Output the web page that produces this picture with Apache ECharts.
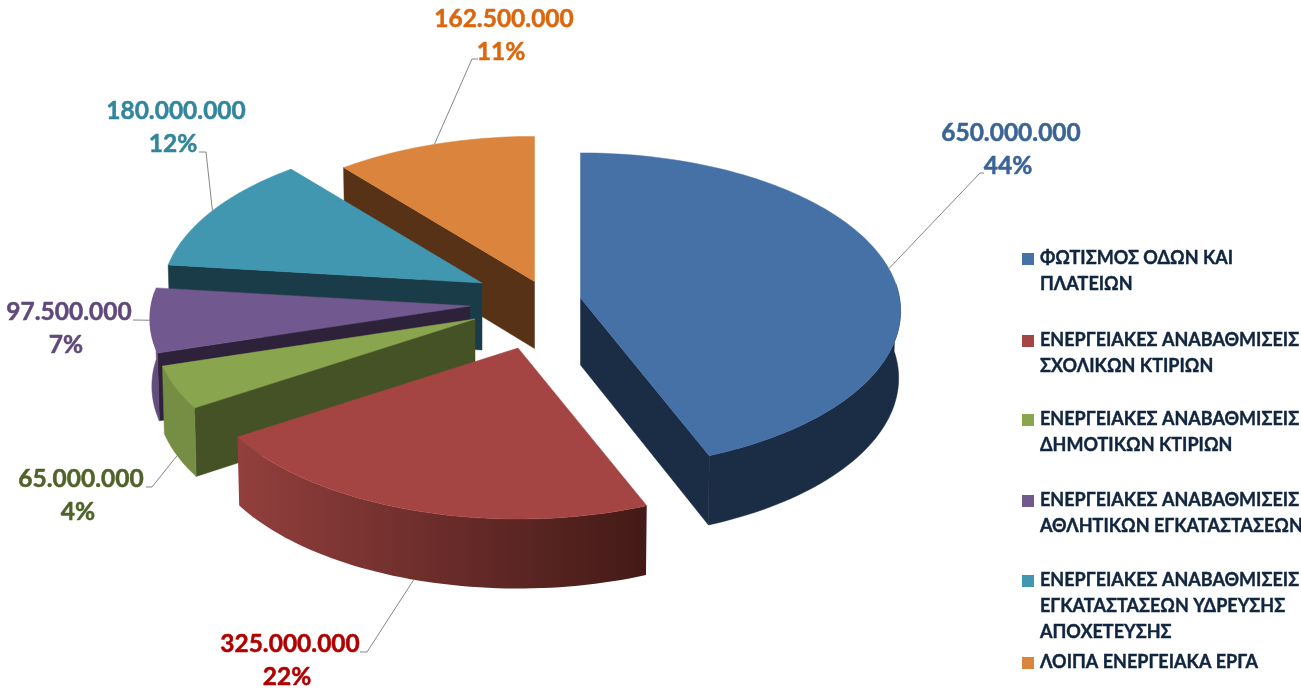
<!DOCTYPE html>
<html>
<head>
<meta charset="utf-8">
<style>html,body{margin:0;padding:0;background:#fff}#c{width:1301px;height:691px}</style>
<script src="https://cdn.jsdelivr.net/npm/echarts@6/dist/echarts.min.js"></script>
</head>
<body>
<div id="c"></div>
<script>
// ---- data ----
const categories = [
  'ΦΩΤΙΣΜΟΣ ΟΔΩΝ ΚΑΙ\nΠΛΑΤΕΙΩΝ',
  'ΕΝΕΡΓΕΙΑΚΕΣ ΑΝΑΒΑΘΜΙΣΕΙΣ\nΣΧΟΛΙΚΩΝ ΚΤΙΡΙΩΝ',
  'ΕΝΕΡΓΕΙΑΚΕΣ ΑΝΑΒΑΘΜΙΣΕΙΣ\nΔΗΜΟΤΙΚΩΝ ΚΤΙΡΙΩΝ',
  'ΕΝΕΡΓΕΙΑΚΕΣ ΑΝΑΒΑΘΜΙΣΕΙΣ\nΑΘΛΗΤΙΚΩΝ ΕΓΚΑΤΑΣΤΑΣΕΩΝ',
  'ΕΝΕΡΓΕΙΑΚΕΣ ΑΝΑΒΑΘΜΙΣΕΙΣ\nΕΓΚΑΤΑΣΤΑΣΕΩΝ ΥΔΡΕΥΣΗΣ\nΑΠΟΧΕΤΕΥΣΗΣ',
  'ΛΟΙΠΑ ΕΝΕΡΓΕΙΑΚΑ ΕΡΓΑ'
];
const values = [650000000, 325000000, 65000000, 97500000, 180000000, 162500000];

// ---- colours ----
const topColors    = ['#4571a6', '#a54543', '#89a54e', '#71588f', '#4197b0', '#db843d'];
const cutColors    = ['#1b2d45', '#451a18', '#445226', '#2d2239', '#1a3c48', '#583216'];
const rimColorsL   = ['#1b2d45', '#923f3d', '#768e43', '#624d7d', '#1a3c48', '#583216'];
const rimColorsR   = ['#1b2d45', '#431a17', '#768e43', '#624d7d', '#1a3c48', '#583216'];
const labelColors  = ['#3a6496', '#b00000', '#4f6228', '#5f497a', '#31859c', '#dc660c'];

// ---- layout ----
const pieCenter = [510, 305];
const radiusX = 319, radiusY = 157, perspective = 0.082;
const depth = 67, depthPersp = 2.5, bottomShrink = 0.994;
const explode = [[70.5, -7], [8, 43], [-35, 14], [-40, 1], [-28, -22], [24.5, -23.5]];
const labelAnchor = [[1011, 133], [290, 644], [81, 479], [69, 312], [176, 111], [504, 19]];
const labelElbow = [
  [[980, 173], [984, 173]], [[367, 652], [360, 652]], [[152, 487], [146, 487]],
  [[133, 320], [133, 320]], [[206, 152], [199, 152]], [[472, 59], [478, 59]]
];
const legendTops = [258, 340, 419, 500, 580, 662];
const labelFont = 'bold 24.5px Lato, "Open Sans", sans-serif';
const legendFont = 'bold 18px Lato, "Open Sans", sans-serif';

const total = values.reduce((a, b) => a + b, 0);
const fmt = v => String(v).replace(/\B(?=(\d{3})+(?!\d))/g, '.');
const rad = d => d * Math.PI / 180;

// project an angle (deg clockwise from north) of the ground circle to the screen
function proj(ax, ay, deg) {
  const X = Math.sin(rad(deg)), Y = -Math.cos(rad(deg));
  const s = 1 / (1 - perspective * Y);
  return [ax + radiusX * X * s, ay + radiusY * Y * s];
}

function renderItem(params, api) {
  const i = params.dataIndex;
  const value = api.value(0);
  let sum = 0;
  for (let k = 0; k < i; k++) sum += values[k];
  const a0 = sum / total * 360, a1 = (sum + value) / total * 360, mid = (a0 + a1) / 2;
  const ax = pieCenter[0] + explode[i][0], ay = pieCenter[1] + explode[i][1];
  const apex = [ax, ay];
  const drop = (p, Y) => [ax + (p[0] - ax) * bottomShrink, p[1] + depth + depthPersp * Y];
  const children = [];
  let z = (6 - i) * 10;
  const add = el => { el.z2 = z++; children.push(el); };

  const arc = (from, to) => {
    const pts = [];
    const n = Math.max(2, Math.ceil((to - from) / 1.5));
    for (let k = 0; k <= n; k++) pts.push(from + (to - from) * k / n);
    return pts;
  };
  const wall = (p, q, deg, fill) => add({
    type: 'polygon',
    shape: { points: [p, q, drop(q, -Math.cos(rad(deg))), drop(p, 0)] },
    style: { fill, stroke: fill, lineWidth: 0.5 }
  });
  const pStart = proj(ax, ay, a0), pEnd = proj(ax, ay, a1);
  if (pStart[0] < ax - 1) wall(apex, pStart, a0, cutColors[i]);
  if (pEnd[0] > ax + 1) wall(apex, pEnd, a1, cutColors[i]);

  // outer rim wall
  const r0 = Math.max(a0, 85), r1 = Math.min(a1, 275);
  if (r1 > r0) {
    const angs = arc(r0, r1);
    const upper = angs.map(d => proj(ax, ay, d));
    const lower = angs.map((d, k) => drop(upper[k], -Math.cos(rad(d)))).reverse();
    const xs = upper.map(p => p[0]);
    const minX = Math.min.apply(null, xs), maxX = Math.max.apply(null, xs);
    add({
      type: 'polygon',
      shape: { points: upper.concat(lower) },
      style: {
        fill: {
          type: 'linear', x: minX, y: 0, x2: maxX, y2: 0, global: true,
          colorStops: [{ offset: 0, color: rimColorsL[i] }, { offset: 1, color: rimColorsR[i] }]
        },
        stroke: rimColorsR[i] === rimColorsL[i] ? rimColorsR[i] : null,
        lineWidth: 0.5
      }
    });
  }

  // top face
  const face = [apex].concat(arc(a0, a1).map(d => proj(ax, ay, d)));
  add({
    type: 'polygon',
    shape: { points: face },
    style: { fill: topColors[i], stroke: topColors[i], lineWidth: 0.5 }
  });

  // leader line + data label (always above the slices)
  z = 200 + i * 5;
  const rimY = -Math.cos(rad(mid));
  let start = proj(ax, ay, mid);
  if (rimY > 0.2) start = drop(start, rimY);
  add({
    type: 'polyline',
    shape: { points: [start].concat(labelElbow[i]) },
    style: { fill: null, stroke: '#868686', lineWidth: 1 }
  });
  const [lx, ly] = labelAnchor[i];
  const textStyle = { font: labelFont, fill: labelColors[i], stroke: labelColors[i], lineWidth: 0.5, textAlign: 'center', textVerticalAlign: 'middle' };
  add({ type: 'text', style: Object.assign({ x: lx, y: ly, text: fmt(value) }, textStyle) });
  add({ type: 'text', style: Object.assign({ x: lx - 3, y: ly + 33, text: Math.round(value / total * 100) + '%' }, textStyle) });
  return { type: 'group', children };
}

const legendGraphics = [];
categories.forEach((name, i) => {
  const top = legendTops[i];
  legendGraphics.push({
    type: 'rect', silent: true,
    shape: { x: 1022, y: top - 5, width: 12, height: 12 },
    style: { fill: topColors[i] }
  });
  name.split('\n').forEach((line, k) => {
    legendGraphics.push({
      type: 'text', silent: true,
      style: { x: 1040, y: top + k * 26, text: line, font: legendFont, fill: '#10253f', stroke: '#10253f', lineWidth: 0.4, textAlign: 'left', textVerticalAlign: 'middle' }
    });
  });
});

const chart = echarts.init(document.getElementById('c'), null, { renderer: 'canvas' });
chart.setOption({
  animation: false,
  backgroundColor: '#ffffff',
  series: [{
    type: 'custom',
    coordinateSystem: 'none',
    silent: true,
    clip: false,
    renderItem,
    data: values.map((v, i) => ({ name: categories[i], value: [v] }))
  }],
  graphic: legendGraphics
});
</script>
</body>
</html>
